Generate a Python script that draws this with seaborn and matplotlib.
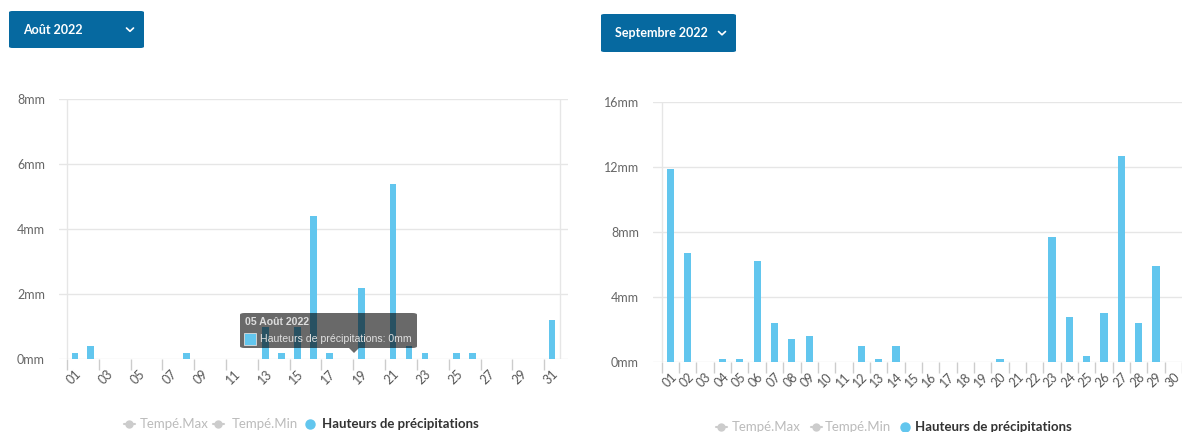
import matplotlib
matplotlib.use("Agg")
import matplotlib.pyplot as plt
import seaborn as sns
import pandas as pd
from matplotlib.patches import FancyBboxPatch, Polygon, Rectangle
from matplotlib.lines import Line2D

# ---------------- data ----------------
aug_days = [f"{d:02d}" for d in range(1, 32)]
aug_rain = [0.2, 0.4, 0, 0, 0, 0, 0, 0.2, 0, 0, 0, 0, 1.0, 0.2, 1.0, 4.4, 0.2, 0,
            2.2, 0, 5.4, 0.4, 0.2, 0, 0.2, 0.2, 0, 0, 0, 0, 1.2]
sep_days = [f"{d:02d}" for d in range(1, 31)]
sep_rain = [11.9, 6.7, 0, 0.2, 0.2, 6.2, 2.4, 1.4, 1.6, 0, 0, 1.0, 0.2, 1.0, 0, 0,
            0, 0, 0, 0.2, 0, 0, 7.7, 2.8, 0.4, 3.0, 12.7, 2.4, 5.9, 0]
aug_yticks = [0, 2, 4, 6, 8]
sep_yticks = [0, 4, 8, 12, 16]
legend_labels = ["Tempé.Max", "Tempé.Min", "Hauteurs de précipitations"]
titles = ["Août 2022", "Septembre 2022"]
tooltip_title = "05 Août 2022"
tooltip_text = "Hauteurs de précipitations: 0mm"

BLUE = "#62C6EE"
GRID = "#e6e6e6"
BTN = "#0669A0"
FONT = "Lato"
TIP_FONT = ["Liberation Sans", "DejaVu Sans"]

sns.set_theme(style="white")
plt.rcParams["font.family"] = [FONT, "DejaVu Sans"]

W, H = 1182, 432
fig = plt.figure(figsize=(W / 100, H / 100), dpi=100)


def fx(px):
    return px / W


def fy(py):
    return 1 - py / H


def make_axes(left, right, top, bottom):
    return fig.add_axes([fx(left), fy(bottom), fx(right) - fx(left), fy(top) - fy(bottom)])


def style_axes(ax, days, yticks, xlim, every, right_line):
    ax.set_xlim(*xlim)
    ax.set_ylim(yticks[0], yticks[-1])
    for s in ax.spines.values():
        s.set_visible(False)
    ax.set_yticks(yticks)
    ax.set_yticklabels([f"{v}mm" for v in yticks], color="#666666", fontsize=9)
    ax.yaxis.grid(True, color=GRID, linewidth=1)
    ax.xaxis.grid(False)
    ax.set_axisbelow(True)
    ax.tick_params(axis="y", length=0, pad=10)
    major = list(range(0, len(days), every))
    ax.set_xticks(major)
    ax.set_xticklabels([days[i] for i in major], rotation=45, ha="right",
                       rotation_mode="anchor", color="#555555", fontsize=9)
    ax.set_xticks([k - 0.5 for k in range(0, len(days) + 1, every)], minor=True)
    ax.tick_params(axis="x", which="major", length=0, pad=6)
    ax.tick_params(axis="x", which="minor", length=8, width=1, color="#cccccc",
                   direction="out", bottom=True)
    ax.axvline(-0.5, color=GRID, linewidth=1, zorder=0)
    if right_line:
        ax.axvline(len(days) - 0.5, color=GRID, linewidth=1, zorder=0)
    ax.set_xlabel("")
    ax.set_ylabel("")


# left chart
ax1 = make_axes(59, 568, 99, 359)
df1 = pd.DataFrame({"day": aug_days, "rain": aug_rain})
sns.barplot(data=df1, x="day", y="rain", color=BLUE, saturation=1, width=0.42,
            linewidth=0, ax=ax1, errorbar=None, zorder=2)
style_axes(ax1, aug_days, aug_yticks, (-1.0, 31.0), 2, True)

# right chart
ax2 = make_axes(653, 1182, 102, 362)
df2 = pd.DataFrame({"day": sep_days, "rain": sep_rain})
sns.barplot(data=df2, x="day", y="rain", color=BLUE, saturation=1, width=0.42,
            linewidth=0, ax=ax2, errorbar=None, zorder=2)
style_axes(ax2, sep_days, sep_yticks, (-1.006, 28.74), 1, False)

# ------------- buttons -------------
def button(x0, y0, x1, y1, text, chevron_x):
    p = FancyBboxPatch((fx(x0), fy(y1)), fx(x1) - fx(x0), fy(y0) - fy(y1),
                       boxstyle="round,pad=0,rounding_size=0.003",
                       transform=fig.transFigure, facecolor=BTN, edgecolor="none")
    fig.patches.append(p)
    ym = (y0 + y1) / 2
    fig.text(fx(x0 + 14), fy(ym), text, color="white", fontsize=9, fontweight="bold",
             ha="left", va="center")
    fig.lines.append(Line2D([fx(chevron_x - 3.5), fx(chevron_x), fx(chevron_x + 3.5)],
                            [fy(ym - 1.5), fy(ym + 1.8), fy(ym - 1.5)],
                            transform=fig.transFigure, color="white", linewidth=1.2))


button(9, 11, 144, 48, titles[0], 130)
button(601, 14, 736, 52, titles[1], 722)

# ------------- legends -------------
def legend(y, xs):
    for i, (sym_x, txt_x) in enumerate(xs):
        if i < 2:
            fig.lines.append(Line2D([fx(sym_x - 5.5), fx(sym_x + 5.5)], [fy(y), fy(y)],
                                    transform=fig.transFigure, color="#cccccc", linewidth=1.5))
            fig.lines.append(Line2D([fx(sym_x)], [fy(y)], transform=fig.transFigure,
                                    marker="o", markersize=5, color="#cccccc"))
            fig.text(fx(txt_x), fy(y), legend_labels[i], color="#bbbbbb", fontsize=9.5,
                     ha="left", va="center")
        else:
            fig.lines.append(Line2D([fx(sym_x)], [fy(y)], transform=fig.transFigure,
                                    marker="o", markersize=6.5, color=BLUE))
            fig.text(fx(txt_x), fy(y), legend_labels[i], color="#333333", fontsize=9.5,
                     fontweight="bold", ha="left", va="center")


legend(424, [(129, 140), (218, 232), (310, 322)])
legend(427, [(721, 732), (816, 825), (905, 915)])

# ------------- tooltip (drawn inside the left axes, above the bars) -------------
T = fig.transFigure
tip = FancyBboxPatch((fx(240), fy(348)), fx(417) - fx(240), fy(313) - fy(348),
                     boxstyle="round,pad=0,rounding_size=0.004",
                     transform=T, facecolor="black", alpha=0.59,
                     edgecolor="none", zorder=10, clip_on=False)
ax1.add_artist(tip)
ax1.add_artist(Polygon([[fx(349), fy(348)], [fx(359), fy(348)], [fx(354), fy(353)]],
                       closed=True, transform=T, facecolor="black", alpha=0.59,
                       edgecolor="none", zorder=10, clip_on=False))
ax1.text(fx(245), fy(322), tooltip_title, color="#dddddd", fontsize=7.6, fontweight="bold",
         family=TIP_FONT, ha="left", va="center", zorder=11, transform=T, clip_on=False)
ax1.add_artist(Rectangle((fx(244), fy(345)), fx(256) - fx(244), fy(333) - fy(345),
                         transform=T, facecolor=BLUE, edgecolor="#dddddd",
                         linewidth=0.6, zorder=11, clip_on=False))
ax1.text(fx(260), fy(339), tooltip_text, color="#e0e0e0", fontsize=7.6,
         family=TIP_FONT, ha="left", va="center", zorder=11, transform=T, clip_on=False)

fig.savefig("out.png", dpi=100)
